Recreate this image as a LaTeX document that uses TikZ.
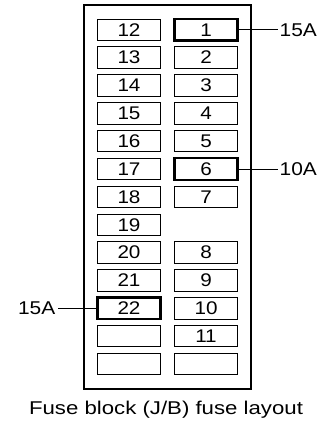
\documentclass[tikz,border=0pt]{standalone}
\usepackage{fontspec}
\setmainfont{Liberation Sans}[FakeStretch=1.13]
\newfontfamily\capfont{Liberation Sans}[FakeStretch=1.2]
\usetikzlibrary{positioning}

\begin{document}
\begin{tikzpicture}[
      x=1pt, y=1pt,
      fuse/.style={draw, line width=0.8pt, minimum width=63pt,
        minimum height=21.5pt, inner sep=0pt, outer sep=0pt,
        font=\fontsize{18.3}{18}\selectfont},
      hot/.style={fuse, line width=2.2pt},
      amp/.style={inner sep=2pt, font=\fontsize{18.5}{18}\selectfont},
      node distance=6.35pt and 14pt
    ]
      \useasboundingbox (0,0) rectangle (325,-427);
      \node[draw, line width=1.1pt, minimum width=167pt,
        minimum height=384pt] (block) at (167.5,-197) {};
      % left column
      \node[fuse] (f12) at (129,-29.75) {12};
      \node[fuse, below=of f12] (f13) {13};
      \node[fuse, below=of f13] (f14) {14};
      \node[fuse, below=of f14] (f15) {15};
      \node[fuse, below=of f15] (f16) {16};
      \node[fuse, below=of f16] (f17) {17};
      \node[fuse, below=of f17] (f18) {18};
      \node[fuse, below=of f18] (f19) {19};
      \node[fuse, below=of f19] (f20) {20};
      \node[fuse, below=of f20] (f21) {21};
      \node[hot, below=of f21] (f22) {22};
      \node[fuse, below=of f22] (spareA) {};
      \node[fuse, below=of spareA] (spareB) {};
      % right column
      \node[hot, right=of f12] (f1) {1};
      \node[fuse, right=of f13] (f2) {2};
      \node[fuse, right=of f14] (f3) {3};
      \node[fuse, right=of f15] (f4) {4};
      \node[fuse, right=of f16] (f5) {5};
      \node[hot, right=of f17] (f6) {6};
      \node[fuse, right=of f18] (f7) {7};
      \node[fuse, right=of f20] (f8) {8};
      \node[fuse, right=of f21] (f9) {9};
      \node[fuse, right=of f22] (f10) {10};
      \node[fuse, right=of spareA] (f11) {11};
      \node[fuse, right=of spareB] (spareC) {};
      % ratings
      \node[amp, right=40pt of f1] (amp1) {15A};
      \node[amp, right=40pt of f6] (amp6) {10A};
      \node[amp, left=40pt of f22] (amp22) {15A};
      \draw[line width=0.9pt] (f1) -- (amp1);
      \draw[line width=0.9pt] (f6) -- (amp6);
      \draw[line width=0.9pt] (f22) -- (amp22);
      \node[font=\capfont\fontsize{18.5}{18}\selectfont] (caption)
        at (166,-410) {Fuse block (J/B) fuse layout};
    \end{tikzpicture}
\end{document}
